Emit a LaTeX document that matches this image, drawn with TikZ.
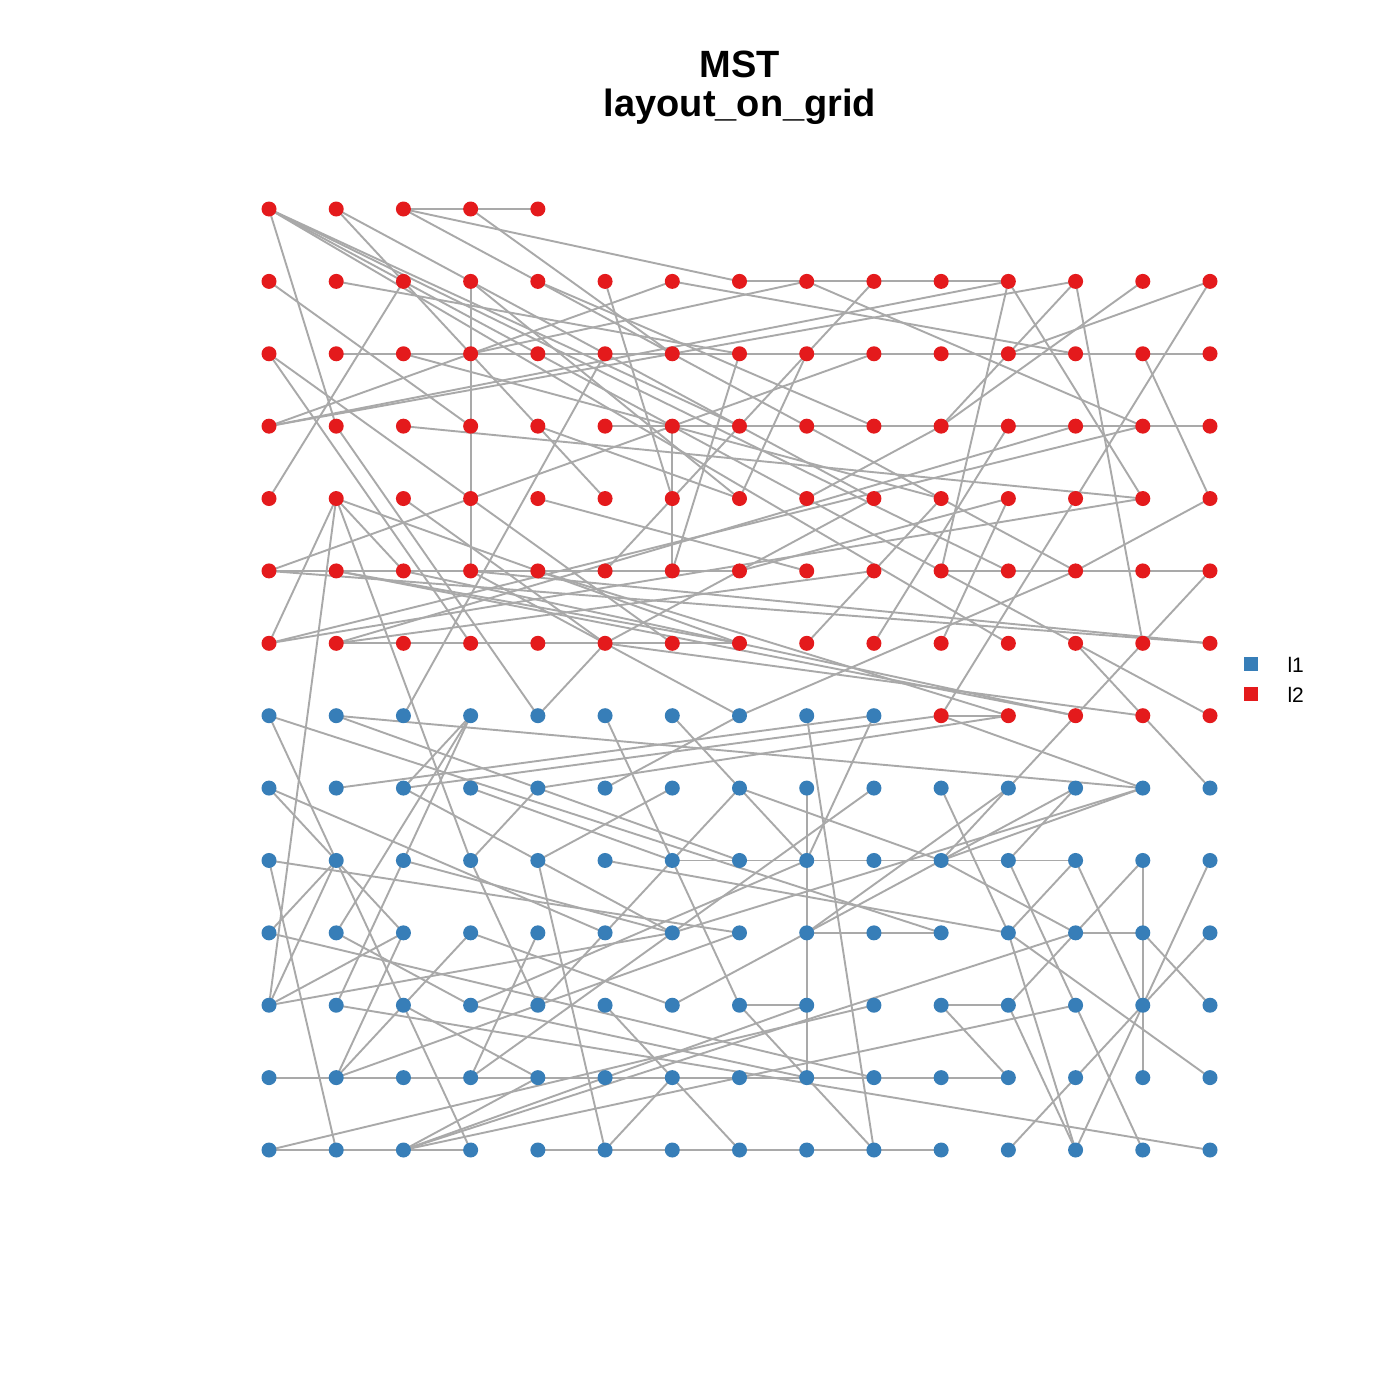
\documentclass[tikz,border=0pt]{standalone}
\usepackage{fontspec}
\setmainfont{Liberation Sans}
\usetikzlibrary{backgrounds}
\definecolor{rd}{HTML}{E41A1C}
\definecolor{bl}{HTML}{377EB8}
\definecolor{eg}{HTML}{A9A9A9}
\begin{document}
\begin{tikzpicture}[x=1pt,y=-1pt,
  dot/.style={circle,inner sep=0pt,minimum size=15pt,draw=none},
  edge/.style={draw=eg,line width=1.9pt},
  ttl/.style={anchor=base,font=\fontsize{38}{44}\selectfont\bfseries},
  leg/.style={anchor=base west,font=\fontsize{21}{25}\selectfont}]
\useasboundingbox (0,0) rectangle (1400,1400);
\foreach \r in {0,...,13}{
  \foreach \c in {0,...,14}{
    \pgfmathtruncatemacro\show{(\r>0)||(\c<5)}
    \pgfmathtruncatemacro\isred{(\r<7)||((\r==7)&&(\c>9))}
    \ifnum\show=1
      \ifnum\isred=1 \def\col{rd}\else\def\col{bl}\fi
      \node[dot,fill=\col] (n-\r-\c) at ({269+67.214*\c},{209+72.385*\r}) {};
    \fi
  }
}
\begin{pgfonlayer}{background}
\fill[white] (0,0) rectangle (1400,1400);
\foreach \a/\b in {0-2/0-3, 0-3/0-4, 0-2/1-7, 0-3/2-6, 0-2/5-12, 0-0/3-1, 0-0/7-14, 0-0/5-11, 0-0/6-11, 0-0/3-7, 0-1/4-5, 0-1/4-9, 1-0/3-3, 1-1/2-7, 1-3/2-3, 2-3/3-3, 3-3/4-3, 4-3/5-3, 1-3/4-7, 1-4/3-9, 1-5/4-6, 1-6/2-12, 3-0/1-6, 3-0/1-11, 3-0/1-12, 1-7/1-8, 1-8/1-9, 1-9/1-10, 1-10/1-11, 1-8/2-3, 1-8/3-13, 1-9/5-5, 1-11/4-13, 1-11/5-10, 1-12/6-13, 1-12/3-10, 1-13/3-10, 1-14/2-11, 1-14/4-12, 4-12/7-10,
2-1/2-2, 2-2/2-3, 2-3/2-4, 2-4/2-5, 2-5/2-6, 2-6/2-7, 2-7/2-8, 2-8/2-9, 2-9/2-10, 2-10/2-11, 2-11/2-12, 2-12/2-13, 2-13/2-14,
3-5/3-6, 3-6/3-7, 3-7/3-8, 3-8/3-9, 3-9/3-10, 3-10/3-11, 3-11/3-12, 3-12/3-13, 3-13/3-14,
3-2/4-13, 3-6/4-6, 4-6/5-6, 2-0/6-3, 2-0/6-6, 2-2/4-10, 3-1/7-4, 4-0/1-2, 4-1/6-0, 4-1/11-0, 4-1/9-3, 4-1/5-2, 4-1/6-7, 2-5/7-2, 5-0/2-9, 5-0/6-14, 6-0/3-13, 6-0/4-13, 6-1/3-12, 6-1/5-9,
5-0/5-1, 5-1/5-2, 5-2/5-3, 5-3/5-4, 5-4/5-5, 5-5/5-6, 5-6/5-7, 5-10/5-11, 5-11/5-12, 5-12/5-13, 5-13/5-14,
6-1/6-2, 6-2/6-3, 6-3/6-4, 6-4/6-5, 6-5/6-6, 6-6/6-7,
5-1/6-7, 4-7/2-8, 4-9/6-5, 5-7/4-11, 6-5/7-4, 6-8/4-10, 6-9/3-11, 4-14/2-13, 4-14/5-12, 5-14/9-10, 6-12/8-14, 7-10/8-13, 7-11/8-4, 6-5/7-13, 7-10/7-11, 2-7/5-6, 5-3/7-7, 7-7/5-12, 3-4/4-7, 4-2/6-5, 4-4/5-8, 4-8/3-10, 6-10/4-11,
5-1/7-12, 5-2/7-12, 5-4/7-11, 5-3/6-14,
7-0/9-1, 7-0/10-10, 7-1/8-13, 7-1/9-7, 7-3/11-1, 7-3/10-1, 8-0/9-1, 8-0/10-5, 8-1/7-9, 8-2/7-10, 8-2/7-3, 8-2/10-6, 8-3/9-6, 8-4/9-3, 9-0/10-7, 9-0/13-1, 9-1/10-0, 9-1/10-2, 9-2/10-6, 9-3/11-4, 9-4/8-6, 9-4/13-5, 10-0/12-9, 11-0/10-2, 11-0/9-1, 11-0/10-6, 10-1/11-3, 10-2/12-1, 11-2/10-3, 11-2/13-3, 11-2/12-1, 11-2/12-4, 11-2/9-1, 11-3/9-8, 11-3/12-8, 11-4/10-5,
12-0/12-1, 12-1/12-2, 12-2/12-3, 12-3/12-4, 12-4/12-5, 12-5/12-6, 12-6/12-7, 12-7/12-8, 12-8/12-9, 12-9/12-10, 12-10/12-11,
12-1/10-7, 13-0/13-1, 13-1/13-2, 13-2/13-3, 13-0/11-9, 13-2/11-8, 13-2/10-12, 13-2/11-12, 13-2/12-4, 12-3/10-6, 12-3/10-4, 10-3/11-6,
13-4/13-5, 13-5/13-6, 13-6/13-7, 13-7/13-8, 13-8/13-9, 13-9/13-10,
13-5/12-6, 11-5/13-7, 7-8/13-9, 13-9/11-7, 8-8/9-8, 9-8/10-8, 10-8/11-8, 11-8/12-8, 10-8/10-9, 10-9/10-10, 11-7/11-8, 7-5/11-7, 7-6/9-8, 7-9/9-8, 8-7/10-5, 8-7/9-10, 8-9/10-6,
9-6/9-7, 9-7/9-8, 9-8/9-9, 9-9/9-10, 9-10/9-11, 9-11/9-12,
8-13/10-6, 8-13/9-10, 8-10/10-11, 8-11/10-8, 8-12/9-11, 8-12/11-6, 9-10/10-12, 9-12/10-11, 9-12/11-13, 9-13/10-12, 9-13/10-13, 10-13/11-13, 11-13/12-13, 9-14/11-13, 10-11/13-12, 10-12/10-13, 10-13/11-14, 10-14/11-13, 11-10/12-11, 11-11/13-12, 11-11/10-12, 11-13/12-12, 11-13/13-12, 10-11/12-14, 12-12/13-11, 13-13/9-11, 13-14/11-1, 11-10/11-11, 8-5/7-7, 9-5/10-11}
  \draw[edge] (n-\a.center) -- (n-\b.center);
\end{pgfonlayer}
\node[ttl] (t1) at (740,77) {MST};
\node[ttl] (t2) at (740,116) {layout\_on\_grid};
\node[fill=bl,minimum size=14pt,inner sep=0pt] (lb) at (1251,664) {};
\node[fill=rd,minimum size=14pt,inner sep=0pt] (lr) at (1251,694) {};
\node[leg] (tb) at (1284,672) {l1};
\node[leg] (tr) at (1284,702) {l2};
\end{tikzpicture}
\end{document}
